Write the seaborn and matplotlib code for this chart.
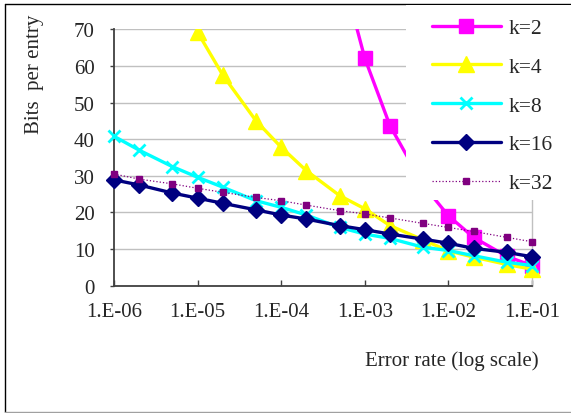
import numpy as np
import pandas as pd
import seaborn as sns
import matplotlib.pyplot as plt
from matplotlib.patches import Rectangle
from matplotlib.lines import Line2D

# error rates used in the experiment
error_rate = [1e-6, 2e-6, 5e-6, 1e-5, 2e-5, 5e-5, 1e-4, 2e-4, 5e-4,
              1e-3, 2e-3, 5e-3, 1e-2, 2e-2, 5e-2, 1e-1]

# bits per entry (NaN = not plotted)
k2 = [np.nan] * 8 + [88, 62.1, 43.7, 27.5, 19.1, 13.2, 8.0, 5.5]
k4 = [np.nan] * 3 + [69.2, 57.5, 45.0, 37.8, 31.4, 24.6, 21.0, 16.4, 12.5, 9.5, 7.8, 5.8, 4.5]
k8 = [40.8, 37.0, 32.5, 29.6, 26.9, 23.2, 21.4, 19.3, 15.9, 14.1, 12.9, 10.5, 9.6, 8.2, 6.4, 5.5]
k16 = [28.9, 27.5, 25.3, 23.9, 22.5, 20.7, 19.3, 18.2, 16.4, 15.3, 14.1, 12.7, 11.6, 10.2, 9.1, 7.9]
k32 = [30.5, 29.1, 27.8, 26.6, 25.5, 24.1, 23.2, 22.0, 20.5, 19.6, 18.5, 17.0, 15.9, 14.8, 13.2, 12.0]

series_names = ['k=2', 'k=4', 'k=8', 'k=16', 'k=32']
tick_values = [1e-6, 1e-5, 1e-4, 1e-3, 1e-2, 1e-1]
tick_labels = ['1.E-06', '1.E-05', '1.E-04', '1.E-03', '1.E-02', '1.E-01']

sns.set_style('white')
plt.rcParams['font.family'] = ['Liberation Serif', 'DejaVu Serif']

fig = plt.figure(figsize=(5.71, 4.14), dpi=100)
ax = fig.add_axes([114 / 571, 1 - 286.7 / 414, (532 - 114) / 571, (286.7 - 30.3) / 414])

styles = {
    'k=2': dict(color='#ff00ff', marker='s', markersize=10, linewidth=2.4, linestyle='-'),
    'k=4': dict(color='#ffff00', marker='^', markersize=11, linewidth=2.4, linestyle='-'),
    'k=8': dict(color='#00ffff', marker='x', markersize=9, markeredgewidth=2, linewidth=2.4, linestyle='-'),
    'k=16': dict(color='#000080', marker='D', markersize=8, linewidth=2.4, linestyle='-'),
    'k=32': dict(color='#800080', marker='s', markersize=4, linewidth=0.9, linestyle=':'),
}

data = {'k=2': k2, 'k=4': k4, 'k=8': k8, 'k=16': k16, 'k=32': k32}
for name in series_names:
    df = pd.DataFrame({'rate': error_rate, 'bits': data[name]}).dropna()
    st = styles[name]
    sns.lineplot(data=df, x='rate', y='bits', ax=ax, color=st['color'],
                 marker=st['marker'], markersize=st['markersize'],
                 markeredgewidth=st.get('markeredgewidth', 1),
                 markeredgecolor=st['color'], linewidth=st['linewidth'],
                 linestyle=st['linestyle'], zorder=3)
    line = ax.lines[-1]
    # clip only at the top of the plot area
    clip = Rectangle((-0.1, -0.1), 1.2, 1.1, transform=ax.transAxes)
    line.set_clip_path(clip)

ax.set_xscale('log')
ax.set_xlim(1e-6, 1e-1)
ax.set_ylim(0, 70)
ax.set_xticks(tick_values)
ax.set_xticklabels(tick_labels)
ax.minorticks_off()
ax.set_yticks(range(0, 71, 10))
ax.grid(axis='y', color='#c0c0c0', linewidth=1)
ax.set_axisbelow(True)

ax.spines['top'].set_visible(False)
ax.spines['right'].set_color('#c0c0c0')
ax.spines['right'].set_linewidth(1)
for s in ['left', 'bottom']:
    ax.spines[s].set_color('#404040')
    ax.spines[s].set_linewidth(1.3)

ax.tick_params(axis='x', direction='in', length=4, width=1, color='#404040',
               labelsize=15, pad=12, bottom=True)
ax.tick_params(axis='y', direction='out', length=3, width=1, color='#404040',
               labelsize=15, pad=11, left=True)

ax.set_xlabel('')
ax.set_ylabel('')
fig.text(35 / 571, 1 - 74 / 414, 'Bits  per entry', rotation=90,
         ha='center', va='center', fontsize=15)
fig.text(451.7 / 571, 1 - 360.7 / 414, 'Error rate (log scale)',
         ha='center', va='center', fontsize=15)

# white box behind the legend, covering the plot
fig.add_artist(Rectangle((406 / 571, 1 - 201 / 414), 165 / 571, 195 / 414,
                         transform=fig.transFigure, facecolor='white',
                         edgecolor='none', zorder=5))

handles = []
for name in series_names:
    st = styles[name]
    handles.append(Line2D([0], [0], color=st['color'], marker=st['marker'],
                          markersize=st['markersize'],
                          markeredgewidth=st.get('markeredgewidth', 1),
                          markeredgecolor=st['color'],
                          linewidth=st['linewidth'], linestyle=st['linestyle']))
leg = fig.legend(handles, series_names, loc='upper left',
                 bbox_to_anchor=(432 / 571, 1 - 19 / 414),
                 frameon=False, fontsize=15.5, handlelength=3.2,
                 handletextpad=0.35, labelspacing=0.87,
                 borderpad=0, borderaxespad=0)
leg.set_zorder(6)

# outer frame of the chart
fig.add_artist(Line2D([5 / 571, 5 / 571], [1 - 5 / 414, 1 / 414], transform=fig.transFigure,
                      color='black', linewidth=1))
fig.add_artist(Line2D([5 / 571, 1], [1 - 5 / 414, 1 - 5 / 414], transform=fig.transFigure,
                      color='black', linewidth=1))
fig.add_artist(Line2D([5 / 571, 1], [1.5 / 414, 1.5 / 414], transform=fig.transFigure,
                      color='#a0a0a0', linewidth=1))

fig.savefig('out.png', dpi=100)
